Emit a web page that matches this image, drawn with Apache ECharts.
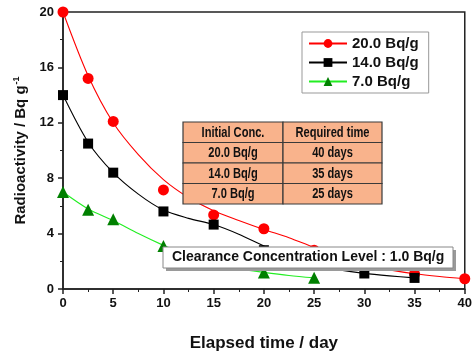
<!DOCTYPE html>
<html>
<head>
<meta charset="utf-8">
<script src="https://cdn.jsdelivr.net/npm/echarts@6/dist/echarts.min.js"></script>
<style>
  html, body { margin: 0; padding: 0; background: #fff; }
  #chart { width: 475px; height: 357px; }
</style>
</head>
<body>
<div id="chart"></div>
<script>
// measured radioactivity (Bq/g) vs elapsed time (day)
const days20 = [0, 2.5, 5, 10, 15, 20, 25, 30, 35, 40]
const conc20 = [20.0, 15.2, 12.1, 7.15, 5.35, 4.35, 2.8, 1.67, 1.1, 0.74]
const days14 = [0, 2.5, 5, 10, 15, 20, 25, 30, 35]
const conc14 = [14.0, 10.5, 8.4, 5.6, 4.65, 2.8, 1.67, 1.12, 0.8]
const days7 = [0, 2.5, 5, 10, 15, 20, 25]
const conc7 = [7.0, 5.72, 5.03, 3.1, 1.74, 1.2, 0.81]

// fitted decay curves
const fitDays = [0, 2.5, 5, 7.5, 10, 12.5, 15, 17.5, 20, 22.5, 25, 27.5, 30, 32.5, 35, 37.5, 40]
const fit20 = [20.0, 15.4, 12.0, 9.7, 7.9, 6.6, 5.65, 4.95, 4.3, 3.7, 3.0, 2.4, 1.75, 1.38, 1.1, 0.9, 0.74]
const fit14 = [14.0, 10.6, 8.4, 6.85, 5.7, 5.1, 4.65, 3.95, 3.1, 2.35, 1.72, 1.38, 1.13, 0.95, 0.8]
const fit7 = [7.0, 5.78, 4.95, 4.0, 3.15, 2.4, 1.8, 1.45, 1.2, 0.98, 0.81]

const seriesNames = ['20.0 Bq/g', '14.0 Bq/g', '7.0 Bq/g']
const tableHeader = ['Initial Conc.', 'Required time']
const tableRows = [
  ['20.0 Bq/g', '40 days'],
  ['14.0 Bq/g', '35 days'],
  ['7.0 Bq/g', '25 days']
]
const clearanceText = 'Clearance Concentration Level : 1.0 Bq/g'

const chart = echarts.init(document.getElementById('chart'), null, { renderer: 'canvas' })

const pairs = (xs, ys) => ys.map((y, i) => [xs[i], y])
const boldFont = 'Arial, "Liberation Sans", sans-serif'

const styles = [
  { symbol: 'circle', size: 11, mark: '#FF0000', line: '#FF0000' },
  { symbol: 'rect', size: 10, mark: '#000000', line: '#000000' },
  { symbol: 'triangle', size: 12, mark: '#008000', line: '#22EE22' }
]
const fits = [fit20, fit14, fit7]
const measured = [[days20, conc20], [days14, conc14], [days7, conc7]]

// fitted line (legend entry) + measured points for each initial concentration
const series = []
seriesNames.forEach((name, i) => {
  const s = styles[i]
  series.push({
    name: name, type: 'line', smooth: 0.3,
    data: pairs(fitDays, fits[i]),
    symbol: s.symbol, symbolSize: s.size, showSymbol: false,
    itemStyle: { color: s.mark },
    lineStyle: { color: s.line, width: 1.1 },
    z: 2
  })
  series.push({
    name: name + ' data', type: 'scatter',
    data: pairs(measured[i][0], measured[i][1]),
    symbol: s.symbol, symbolSize: s.size,
    itemStyle: { color: s.mark, opacity: 1 },
    z: 3
  })
})

// table built from the arrays above (narrow text faked with scaleX)
const tbl = { left: 183, top: 122, colW: [100, 99], rowH: 20.5 }
const tableGraphics = []
const allRows = [tableHeader].concat(tableRows)
allRows.forEach((row, r) => {
  let x = tbl.left
  row.forEach((cell, c) => {
    tableGraphics.push({
      type: 'rect',
      shape: { x: x, y: tbl.top + r * tbl.rowH, width: tbl.colW[c], height: tbl.rowH },
      style: { fill: '#F9B38C', stroke: '#3a3a3a', lineWidth: 1.2 },
      z: 100
    })
    tableGraphics.push({
      type: 'text',
      x: x + tbl.colW[c] / 2,
      y: tbl.top + r * tbl.rowH + tbl.rowH / 2 + 0.5,
      scaleX: 0.74,
      style: {
        text: cell, fill: '#111', font: 'bold 15px ' + boldFont,
        align: 'center', verticalAlign: 'middle'
      },
      z: 101
    })
    x += tbl.colW[c]
  })
})

const option = {
  backgroundColor: '#fff',
  animation: false,
  grid: {
    left: 63, right: 6, top: 12, bottom: 57,
    show: true, borderColor: '#222', borderWidth: 1.5
  },
  legend: {
    orient: 'vertical',
    left: 302, top: 32,
    width: 125,
    padding: [4, 10, 4, 6],
    itemGap: 4,
    itemWidth: 38,
    itemHeight: 11,
    borderColor: '#999', borderWidth: 1,
    textStyle: { fontFamily: boldFont, fontWeight: 'bold', fontSize: 15, color: '#111' },
    data: seriesNames
  },
  xAxis: {
    type: 'value',
    min: 0, max: 40, interval: 5,
    name: 'Elapsed time / day',
    nameLocation: 'middle',
    nameGap: 46,
    nameTextStyle: { fontFamily: boldFont, fontWeight: 'bold', fontSize: 17, color: '#111' },
    axisLine: { show: true, lineStyle: { color: '#222', width: 1.5 } },
    axisTick: { show: true, length: 5, lineStyle: { color: '#222', width: 1.5 } },
    minorTick: { show: true, splitNumber: 2, length: 3, lineStyle: { color: '#222' } },
    splitLine: { show: false },
    axisLabel: { fontFamily: boldFont, fontWeight: 'bold', fontSize: 13, color: '#111', margin: 8 }
  },
  yAxis: {
    type: 'value',
    min: 0, max: 20, interval: 4,
    name: '{a|Radioactivity / Bq g}{s|-1}',
    nameLocation: 'middle',
    nameGap: 31,
    nameTextStyle: {
      rich: {
        a: { fontFamily: boldFont, fontWeight: 'bold', fontSize: 15, color: '#111' },
        s: { fontFamily: boldFont, fontWeight: 'bold', fontSize: 9, color: '#111', verticalAlign: 'top', padding: [0, 0, 10, 1] }
      }
    },
    axisLine: { show: true, lineStyle: { color: '#222', width: 1.5 } },
    axisTick: { show: true, length: 5, lineStyle: { color: '#222', width: 1.5 } },
    minorTick: { show: true, splitNumber: 2, length: 3, lineStyle: { color: '#222' } },
    splitLine: { show: false },
    axisLabel: { fontFamily: boldFont, fontWeight: 'bold', fontSize: 13, color: '#111', margin: 9 }
  },
  series: series,
  graphic: tableGraphics.concat([
    {
      type: 'rect',
      shape: { x: 166, y: 250, width: 290, height: 21 },
      style: { fill: '#9a9a9a' },
      z: 100
    },
    {
      type: 'rect',
      shape: { x: 163, y: 247, width: 290, height: 21 },
      style: { fill: '#fff', stroke: '#888', lineWidth: 1 },
      z: 101
    },
    {
      type: 'text',
      x: 172, y: 257.5,
      style: {
        text: clearanceText, fill: '#111', font: 'bold 14px ' + boldFont,
        verticalAlign: 'middle'
      },
      z: 102
    }
  ]).map(g => Object.assign(g, { zlevel: 1 }))
}

chart.setOption(option)
</script>
</body>
</html>
